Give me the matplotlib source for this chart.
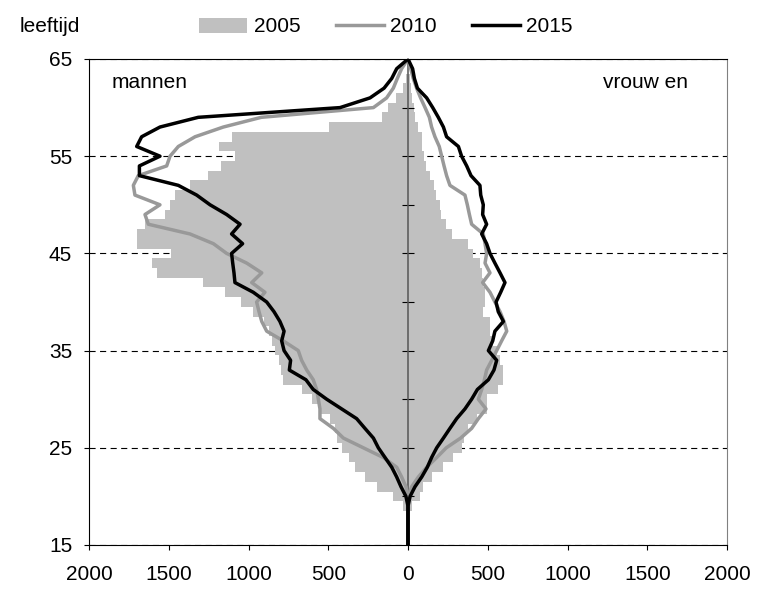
import matplotlib
matplotlib.use('Agg')
import matplotlib.pyplot as plt
from matplotlib.ticker import FuncFormatter
from matplotlib.patches import Patch
from matplotlib.lines import Line2D

plt.rcParams['font.family'] = ['Liberation Sans', 'DejaVu Sans']
plt.rcParams['font.size'] = 15

ages = list(range(15, 66))

# values per age 15..65
men_2005 = [0, 0, 0, 5, 29, 92, 196, 270, 332, 368,
            416, 447, 458, 489, 560, 600, 667, 782, 795, 807,
            834, 855, 869, 900, 970, 1047, 1147, 1283, 1571, 1607,
            1485, 1700, 1697, 1649, 1524, 1492, 1461, 1367, 1252, 1174,
            1085, 1183, 1105, 493, 165, 123, 75, 29, 10, 0,
            0]
women_2005 = [0, 0, 0, 5, 25, 75, 96, 148, 222, 284,
              337, 350, 378, 431, 493, 493, 566, 598, 598, 575,
              560, 530, 514, 514, 470, 483, 483, 470, 462, 450,
              410, 378, 274, 240, 210, 200, 175, 165, 140, 110,
              100, 90, 85, 60, 45, 40, 25, 20, 10, 0,
              0]
men_2010 = [0, 0, 0, 0, 0, 0, 13, 40, 71, 155,
            280, 405, 468, 552, 552, 562, 573, 594, 635, 667,
            688, 782, 886, 917, 934, 949, 897, 980, 917, 1011,
            1137, 1220, 1367, 1628, 1649, 1555, 1712, 1722, 1691, 1513,
            1492, 1440, 1335, 1158, 920, 217, 134, 92, 67, 40,
            0]
women_2010 = [0, 0, 0, 0, 0, 2, 23, 65, 117, 180,
              240, 330, 399, 441, 489, 441, 462, 479, 493, 525,
              556, 587, 619, 602, 577, 545, 514, 468, 514, 483,
              493, 483, 472, 399, 385, 372, 357, 263, 242, 226,
              211, 196, 169, 148, 134, 107, 79, 54, 33, 17,
              0]
men_2015 = [0, 0, 0, 0, 0, 13, 44, 71, 102, 144,
            186, 217, 270, 322, 416, 510, 594, 640, 744, 736,
            777, 792, 777, 803, 840, 886, 970, 1085, 1091, 1099,
            1106, 1037, 1106, 1053, 1137, 1241, 1325, 1440, 1684, 1684,
            1555, 1701, 1670, 1555, 1315, 426, 238, 150, 102, 71,
            0]
women_2015 = [0, 0, 0, 0, 0, 13, 44, 86, 121, 148,
              180, 222, 263, 305, 357, 399, 435, 504, 539, 556,
              504, 531, 545, 598, 566, 552, 581, 608, 577, 545,
              514, 493, 462, 493, 468, 472, 456, 451, 395, 368,
              336, 316, 242, 222, 190, 155, 117, 59, 40, 29,
              0]

x_ticks = [-2000, -1500, -1000, -500, 0, 500, 1000, 1500, 2000]
y_ticks = [15, 25, 35, 45, 55, 65]
center_ticks = [20, 25, 30, 35, 40, 45, 50, 55, 60]

c_bar = '#c0c0c0'
c_2010 = '#999999'
c_2015 = '#000000'
lw_line = 2.5

fig = plt.figure(figsize=(7.61, 5.92), dpi=100)
ax = fig.add_axes([89 / 761, 47 / 592, 638 / 761, 486 / 592])

ax.barh(ages, [-v for v in men_2005], height=1.0, color=c_bar, lw=0, zorder=1)
ax.barh(ages, women_2005, height=1.0, color=c_bar, lw=0, zorder=1)
ax.plot([-v for v in men_2010], ages, color=c_2010, lw=lw_line, zorder=3)
ax.plot(women_2010, ages, color=c_2010, lw=lw_line, zorder=3)
ax.plot([-v for v in men_2015], ages, color=c_2015, lw=lw_line, zorder=4)
ax.plot(women_2015, ages, color=c_2015, lw=lw_line, zorder=4)

ax.set_xlim(-2000, 2000)
ax.set_ylim(15, 65)
ax.set_xticks(x_ticks)
ax.xaxis.set_major_formatter(FuncFormatter(lambda v, p: f"{abs(int(v))}"))
ax.set_yticks(y_ticks)
ax.yaxis.grid(True, color='black', ls=(0, (5.5, 4)), lw=0.8)
ax.set_axisbelow(True)
ax.tick_params(axis='x', direction='out', length=3.6, width=0.8, pad=11)
ax.tick_params(axis='y', direction='out', length=3.6, width=0.8, pad=8.5)
for s in ax.spines.values():
    s.set_linewidth(0.8)
    s.set_color('black')
ax.spines['right'].set_color('#808080')

# central axis with cross ticks
sec = ax.secondary_yaxis(0.5)
sec.set_yticks(center_ticks)
sec.tick_params(direction='inout', length=8, width=0.8, labelright=False, labelleft=False)
for s in sec.spines.values():
    s.set_color('#555555')
    s.set_linewidth(1.1)
sec.set_zorder(2)

ax.text((112 - 89) / 638, (545 - 82) / 486, 'mannen', transform=ax.transAxes,
        ha='left', va='center')
ax.text((603 - 89) / 638, (545 - 82) / 486, 'vrouw en', transform=ax.transAxes,
        ha='left', va='center')

fig.text(20 / 761, 1 - 27 / 592, 'leeftijd', ha='left', va='center')
handles = [Patch(color=c_bar, lw=0),
           Line2D([], [], color=c_2010, lw=lw_line),
           Line2D([], [], color=c_2015, lw=lw_line)]
fig.legend(handles, ['2005', '2010', '2015'], ncol=3, loc='center',
           bbox_to_anchor=(386 / 761, 1 - 27 / 592), frameon=False,
           handlelength=2.3, handletextpad=0.3, columnspacing=1.7,
           borderpad=0, borderaxespad=0)

fig.savefig('out.png', dpi=100)
